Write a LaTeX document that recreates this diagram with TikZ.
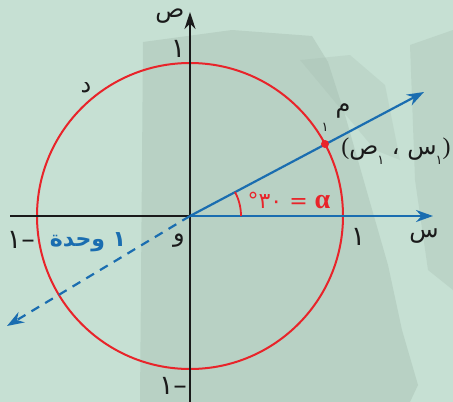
\documentclass[tikz,border=0pt]{standalone}
\usepackage{fontspec}
\usetikzlibrary{arrows.meta}
\TeXXeTstate=1
\newfontfamily\arabicfont[Script=Arabic]{DejaVu Sans}
\newfontfamily\grkfont{Liberation Serif}
\definecolor{bg}{HTML}{C6E0D3}
\definecolor{patch}{HTML}{A3BBAE}
\definecolor{redc}{HTML}{E8242A}
\definecolor{bluec}{HTML}{1A6DB0}
\definecolor{inkc}{HTML}{1A1A1A}
\newcommand{\subone}{\raisebox{-10pt}{\fontsize{13}{14}\selectfont ١}}
\tikzset{
  axisline/.style={inkc, line width=2.4pt},
  bluearrow/.style={bluec, line width=2.2pt, -{Stealth[length=17pt,width=12pt]}},
  lbl/.style={inkc, inner sep=0pt, font=\arabicfont\fontsize{24}{26}\selectfont},
  diglbl/.style={inkc, inner sep=0pt, font=\arabicfont\fontsize{27}{29}\selectfont},
  sublbl/.style={inkc, inner sep=0pt, font=\arabicfont\fontsize{13}{14}\selectfont},
}
\begin{document}
\begin{tikzpicture}[x=1pt,y=-1pt]
\useasboundingbox (0,0) rectangle (453,402);
\fill[bg] (0,0) rectangle (453,402);
% faint photo background
\fill[patch, opacity=0.4] (143,42) -- (232,30) -- (312,36) -- (328,62) -- (345,115) -- (365,185) -- (388,265) -- (402,330) -- (418,385) -- (410,402) -- (140,402) -- cycle;
\fill[patch, opacity=0.3] (410,45) -- (453,30) -- (453,290) -- (428,270) -- (415,180) -- cycle;
\fill[patch, opacity=0.25] (300,60) -- (350,55) -- (385,85) -- (400,160) -- (375,150) -- cycle;

\coordinate (O) at (190,216);
\coordinate (ybot) at (190,402);
\coordinate (ytop) at (190,12);
\coordinate (xl) at (10,216);
\coordinate (xr) at (433,216);
\coordinate (rt) at (424,92);
\coordinate (dl) at (7,326);
\coordinate (arcstart) at (241,216);

\draw[redc, line width=2pt] (O) circle[radius=153];
\draw[axisline, -{Stealth[length=17pt,width=11pt]}] (ybot) -- (ytop);
\draw[axisline] (xl) -- (O);
\draw[bluearrow] (O) -- (xr);
\draw[bluearrow] (O) -- (rt);
\draw[bluearrow, dashed, dash pattern=on 9pt off 7pt] (O) -- (dl);
\draw[redc, line width=1.8pt] (arcstart) arc[start angle=0, end angle=-28, radius=51];
\node[circle, fill=redc, inner sep=0pt, minimum size=8pt] (M) at (325,144) {};

% labels
\node[lbl] (yl) at (170,16) {ص};
\node[diglbl] (yone) at (178,49) {١};
\node[lbl] (dlab) at (86,88) {د};
\node[lbl] (mlab) at (343,111) {م};
\node[sublbl] (msub) at (325,127) {١};
\node[lbl] (coord) at (396,151) {\beginR\hbox{\grkfont )}\hbox{\subone\kern-1pt س}\hbox{ ، }\hbox{\subone\kern-1pt ص}\hbox{\grkfont (}\endR};
\node[redc, inner sep=0pt] (alpha) at (289,200) {\beginR\hbox{\grkfont\bfseries\fontsize{28}{28}\selectfont α}\hbox{\arabicfont\fontsize{22}{24}\selectfont\ = }\hbox{\arabicfont\fontsize{22}{24}\selectfont ٣٠}\hbox{\arabicfont\fontsize{22}{24}\selectfont °}\endR};
\node[diglbl] (xone) at (358,237) {١};
\node[lbl] (xlab) at (424,236) {س};
\node[lbl] (olab) at (179,241) {و};
\node[lbl, bluec, font=\arabicfont\bfseries\fontsize{22}{24}\selectfont] (unit) at (88,242) {\beginR\hbox{١}\hbox{\ }\hbox{وحدة}\endR};
\node[diglbl] (xm) at (21,240) {\beginR\hbox{–}\hbox{١}\endR};
\node[diglbl] (ym) at (173,386) {\beginR\hbox{–}\hbox{١}\endR};
\end{tikzpicture}
\end{document}
